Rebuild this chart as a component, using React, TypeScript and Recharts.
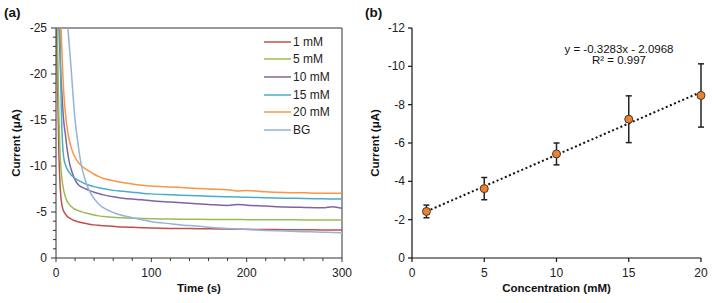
import {
    ComposedChart, ErrorBar, Label, Line, LineChart, ReferenceLine, Scatter, XAxis, YAxis,
} from "recharts";

// (a) chronoamperometry, current in µA vs time in s
const times = [0, 1, 2, 3, 4, 5, 6, 7, 8, 10, 12, 14, 16, 18, 20, 23, 26, 30, 35, 40, 45, 50, 60, 70, 80, 90, 100, 120, 140, 160, 180, 190, 200, 220, 240, 260, 280, 290, 300];
const mM1 = [-60, -24, -17, -11.5, -8.5, -6.8, -5.9, -5.4, -5.1, -4.75, -4.5, -4.35, -4.22, -4.13, -4.05, -3.95, -3.87, -3.78, -3.68, -3.6, -3.55, -3.51, -3.44, -3.36, -3.33, -3.3, -3.27, -3.22, -3.2, -3.17, -3.14, -3.13, -3.12, -3.1, -3.08, -3.07, -3.05, -3.05, -3.04];
const mM5 = [-60, -28, -21, -15.5, -12, -10, -8.8, -8, -7.4, -6.6, -6.1, -5.8, -5.6, -5.42, -5.3, -5.15, -5.05, -4.92, -4.8, -4.68, -4.58, -4.5, -4.42, -4.37, -4.32, -4.3, -4.27, -4.23, -4.21, -4.19, -4.18, -4.18, -4.17, -4.16, -4.15, -4.14, -4.13, -4.13, -4.12];
const mM10 = [-60, -45, -33, -26, -22.5, -20, -18.3, -16.5, -15, -13.3, -11.6, -10.4, -9.6, -9.0, -8.5, -8.02, -7.75, -7.57, -7.35, -7.15, -7.0, -6.86, -6.65, -6.5, -6.4, -6.33, -6.22, -6.08, -5.95, -5.82, -5.72, -5.82, -5.74, -5.65, -5.55, -5.5, -5.47, -5.58, -5.4];
const mM15 = [-60, -50, -40, -31, -26, -19, -14.5, -12.2, -11.0, -10.1, -9.6, -9.28, -9.02, -8.82, -8.66, -8.47, -8.3, -8.1, -7.9, -7.76, -7.63, -7.52, -7.35, -7.25, -7.15, -7.05, -6.97, -6.88, -6.8, -6.72, -6.65, -6.62, -6.6, -6.55, -6.5, -6.47, -6.44, -6.42, -6.4];
const mM20 = [-60, -50, -40, -34, -30, -26, -23, -20.3, -18.2, -15.6, -13.9, -12.8, -12.0, -11.4, -10.95, -10.45, -10.1, -9.75, -9.42, -9.1, -8.85, -8.65, -8.4, -8.2, -8.05, -7.9, -7.82, -7.72, -7.62, -7.5, -7.42, -7.28, -7.34, -7.2, -7.12, -7.08, -7.05, -7.05, -7.03];
const bg = [-80, -75, -70, -65, -60, -55, -50, -45, -40, -32, -26, -23, -20.4, -17.5, -15, -12.5, -10.4, -8.7, -7.3, -6.45, -5.85, -5.45, -4.95, -4.62, -4.38, -4.15, -3.95, -3.73, -3.52, -3.35, -3.22, -3.16, -3.1, -3.0, -2.93, -2.86, -2.8, -2.78, -2.75];

const seriesNames = ["1 mM", "5 mM", "10 mM", "15 mM", "20 mM", "BG"];
const seriesColors = ["#C0504D", "#9BBB59", "#8064A2", "#4BACC6", "#F79646", "#95B3D7"];
const seriesValues = [mM1, mM5, mM10, mM15, mM20, bg];

const timeTicks = [0, 20, 40, 60, 80, 100, 120, 140, 160, 180, 200, 220, 240, 260, 280, 300];
const currentTicks = [0, -1, -2, -3, -4, -5, -6, -7, -8, -9, -10, -11, -12, -13, -14, -15, -16, -17, -18, -19, -20, -21, -22, -23, -24, -25];

// (b) calibration
const concentrations = [1, 5, 10, 15, 20];
const meanCurrent = [-2.43, -3.62, -5.43, -7.24, -8.48];
const stdCurrent = [0.33, 0.58, 0.57, 1.22, 1.65];
const trendX = [1, 20];
const trendY = [-2.43, -8.66];
const concTicks = [0, 5, 10, 15, 20];
const calTicks = [0, -2, -4, -6, -8, -10, -12];

const FONT = "'Liberation Sans', Arial, sans-serif";
const AXIS = "#333";

const curveData = times.map((t, i) => {
    const row: Record<string, number> = {t};
    seriesValues.forEach((vals, k) => {
        row[`s${k}`] = vals[i];
    });
    return row;
});

const calData = concentrations.map((x, i) => ({x, y: meanCurrent[i], err: stdCurrent[i]}));
const trendData = trendX.map((x, i) => ({x, y: trendY[i]}));

interface TickProps {
    x?: number;
    y?: number;
    payload?: {value: number};
}

const LeftYTick = ({x = 0, y = 0, payload}: TickProps) => {
    const v = payload?.value ?? 0;
    const major = v % 5 === 0;
    return (
        <g>
            <line x1={x - (major ? 5 : 3)} x2={x} y1={y} y2={y} stroke={AXIS}/>
            {major && (
                <text x={x - 9} y={y} dy={4} textAnchor="end" fontSize={12} fontFamily={FONT} fill="#222">{v}</text>
            )}
        </g>
    );
};

const LeftXTick = ({x = 0, y = 0, payload}: TickProps) => {
    const v = payload?.value ?? 0;
    const major = v % 100 === 0;
    return (
        <g>
            <line x1={x} x2={x} y1={y} y2={y + (major ? 4 : 3)} stroke={AXIS}/>
            {major && (
                <text x={x} y={y} dy={19} textAnchor="middle" fontSize={12} fontFamily={FONT} fill="#222">{v}</text>
            )}
        </g>
    );
};

const RightYTick = ({x = 0, y = 0, payload}: TickProps) => (
    <g>
        <line x1={x - 4} x2={x} y1={y} y2={y} stroke="#111" strokeWidth={1.2}/>
        <text x={x - 7} y={y} dy={4} textAnchor="end" fontSize={12} fontFamily={FONT} fill="#222">{payload?.value}</text>
    </g>
);

const RightXTick = ({x = 0, y = 0, payload}: TickProps) => (
    <g>
        <line x1={x} x2={x} y1={y} y2={y + 4} stroke="#111" strokeWidth={1.2}/>
        <text x={x} y={y} dy={19} textAnchor="middle" fontSize={12} fontFamily={FONT} fill="#222">{payload?.value}</text>
    </g>
);

interface DotProps {
    cx?: number;
    cy?: number;
}

const OrangeDot = ({cx = 0, cy = 0}: DotProps) => (
    <circle cx={cx} cy={cy} r={4} fill="#F0812A" stroke="#3a3a3a" strokeWidth={1}/>
);

const titleStyle = {fontSize: 11.5, fontWeight: 700, fill: "#111", fontFamily: FONT};

const CurveLegend = () => (
    <div style={{position: "absolute", left: 264, top: 33, fontFamily: FONT, fontSize: 12, color: "#222"}}>
        {seriesNames.map((name, k) => (
            <div key={name} style={{display: "flex", alignItems: "center", height: 17.6}}>
                <svg width={28} height={4} style={{marginRight: 1}}>
                    <line x1={0} x2={27} y1={2} y2={2} stroke={seriesColors[k]} strokeWidth={1.5}/>
                </svg>
                <span>{name}</span>
            </div>
        ))}
    </div>
);

export default function App() {
    return (
        <div style={{position: "fixed", left: 0, top: 0, width: 712, height: 303, background: "#fff"}}>
            <div style={{position: "absolute", left: 0, top: 0}}>
                <LineChart width={360} height={303} data={curveData} margin={{top: 28, right: 18, bottom: 0, left: 0}}>
                    <XAxis
                        dataKey="t"
                        type="number"
                        domain={[0, 300]}
                        ticks={timeTicks}
                        interval={0}
                        height={45}
                        tickSize={0}
                        tickMargin={0}
                        tickLine={false}
                        axisLine={{stroke: AXIS}}
                        tick={<LeftXTick/>}
                    >
                        <Label value="Time (s)" position="insideBottom" offset={11} style={titleStyle}/>
                    </XAxis>
                    <YAxis
                        type="number"
                        domain={[-25, 0]}
                        reversed
                        allowDataOverflow
                        ticks={currentTicks}
                        interval={0}
                        width={56}
                        tickSize={0}
                        tickMargin={0}
                        tickLine={false}
                        axisLine={{stroke: AXIS}}
                        tick={<LeftYTick/>}
                    >
                        <Label value="Current (μA)" angle={-90} position="insideLeft" offset={16}
                               style={{...titleStyle, textAnchor: "middle"}}/>
                    </YAxis>
                    <ReferenceLine y={-25} stroke={AXIS}/>
                    <ReferenceLine x={300} stroke={AXIS}/>
                    {seriesNames.map((name, k) => (
                        <Line
                            key={name}
                            dataKey={`s${k}`}
                            name={name}
                            type="monotone"
                            stroke={seriesColors[k]}
                            strokeWidth={1.5}
                            dot={false}
                            activeDot={false}
                            isAnimationActive={false}
                        />
                    ))}
                </LineChart>
                <CurveLegend/>
            </div>

            <div style={{position: "absolute", left: 360, top: 0}}>
                <ComposedChart width={352} height={303} margin={{top: 28, right: 11, bottom: 0, left: 0}}>
                    <XAxis
                        dataKey="x"
                        type="number"
                        domain={[0, 20]}
                        ticks={concTicks}
                        interval={0}
                        height={45}
                        tickSize={0}
                        tickMargin={0}
                        tickLine={false}
                        axisLine={{stroke: "#111", strokeWidth: 1.2}}
                        tick={<RightXTick/>}
                    >
                        <Label value="Concentration (mM)" position="insideBottom" offset={11} style={titleStyle}/>
                    </XAxis>
                    <YAxis
                        dataKey="y"
                        type="number"
                        domain={[-12, 0]}
                        reversed
                        ticks={calTicks}
                        interval={0}
                        width={52}
                        tickSize={0}
                        tickMargin={0}
                        tickLine={false}
                        axisLine={{stroke: "#111", strokeWidth: 1.2}}
                        tick={<RightYTick/>}
                    >
                        <Label value="Current (μA)" angle={-90} position="insideLeft" offset={15}
                               style={{...titleStyle, textAnchor: "middle"}}/>
                    </YAxis>
                    <Line
                        data={trendData}
                        dataKey="y"
                        type="linear"
                        stroke="#111"
                        strokeWidth={2}
                        strokeDasharray="2 2.5"
                        dot={false}
                        activeDot={false}
                        isAnimationActive={false}
                    />
                    <Scatter data={calData} dataKey="y" shape={<OrangeDot/>} isAnimationActive={false}>
                        <ErrorBar dataKey="err" direction="y" width={3} stroke="#222" strokeWidth={1.5}
                                  isAnimationActive={false}/>
                    </Scatter>
                </ComposedChart>
                <div style={{
                    position: "absolute", left: 199, top: 44, width: 120, textAlign: "center",
                    fontFamily: FONT, fontSize: 11.5, lineHeight: "11px", color: "#111",
                }}>
                    <div>y = -0.3283x - 2.0968</div>
                    <div>R² = 0.997</div>
                </div>
            </div>

            <div style={{position: "absolute", left: 4, top: 5, fontFamily: FONT, fontSize: 13.5, fontWeight: 700, color: "#111"}}>(a)</div>
            <div style={{position: "absolute", left: 365, top: 5, fontFamily: FONT, fontSize: 13.5, fontWeight: 700, color: "#111"}}>(b)</div>
        </div>
    );
}
